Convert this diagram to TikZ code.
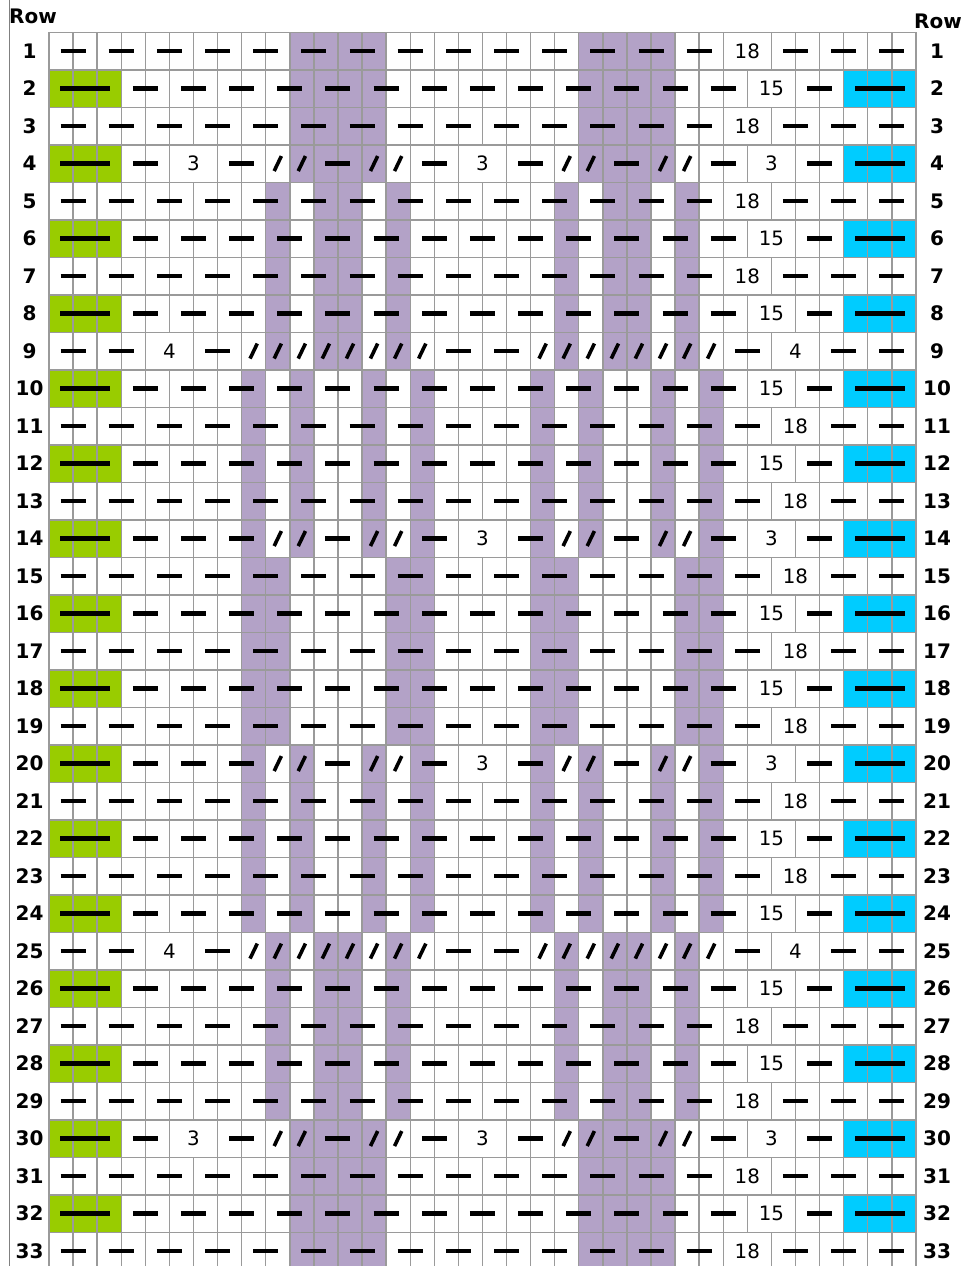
\documentclass[tikz,border=0pt]{standalone}
\usepackage{fontspec}
\setmainfont{DejaVu Sans}
\definecolor{purp}{HTML}{B3A2C7}
\definecolor{grn}{HTML}{99CC00}
\definecolor{blu}{HTML}{00CCFF}
\definecolor{gridc}{HTML}{9A9A9A}
\tikzset{
  dsh/.style={line width=2.1pt, black},
  sls/.style={line width=1.8pt, black},
  grd/.style={draw=gridc, line width=0.7pt},
  lbl/.style={font=\fontsize{9.9}{10}\selectfont, inner sep=0pt},
  rowlbl/.style={font=\fontsize{10}{10}\selectfont\bfseries, inner sep=0pt},
}
% dash centred on grid line k in row r
\newcommand\D[2]{\draw[dsh] ({36.5+#1*24.08},{13.55+#2*37.5}) -- ++(25,0);}
% slash in cell c of row r
\newcommand\Sl[2]{\draw[sls] ({61.04+#1*24.08-3.6},{13.55+#2*37.5+7.5}) -- ++(7.2,-15);}
% text box centred on grid line k in row r
\newcommand\T[3]{\fill[white] ({49+(#1-1)*24.08+0.8},{32.3+(#2-1)*37.5+0.8}) rectangle ({49+(#1+1)*24.08-0.8},{32.3+#2*37.5-0.8});
  \node[lbl] (t#2c#1) at ({49+#1*24.08},{13.55+#2*37.5}) {#3};}
\newcommand\LongD[1]{\draw[dsh] (60,{13.55+#1*37.5}) -- (110,{13.55+#1*37.5});
  \draw[dsh] (855,{13.55+#1*37.5}) -- (905,{13.55+#1*37.5});}
\newcommand\OddRow[3]{\foreach \k in {1,3,...,35}{\ifnum\k=#2\relax\else\D{\k}{#1}\fi}\T{#2}{#1}{#3}}
\newcommand\EvenRow[3]{\foreach \k in {4,6,...,32}{\ifnum\k=#2\relax\else\D{\k}{#1}\fi}\T{#2}{#1}{#3}\LongD{#1}}
\newcommand\RowA[1]{\D{4}{#1}\T{6}{#1}{3}\D{8}{#1}\Sl{9}{#1}\Sl{10}{#1}\D{12}{#1}\Sl{13}{#1}\Sl{14}{#1}\D{16}{#1}\T{18}{#1}{3}\D{20}{#1}\Sl{21}{#1}\Sl{22}{#1}\D{24}{#1}\Sl{25}{#1}\Sl{26}{#1}\D{28}{#1}\T{30}{#1}{3}\D{32}{#1}\LongD{#1}}
\newcommand\RowB[1]{\D{4}{#1}\D{6}{#1}\D{8}{#1}\Sl{9}{#1}\Sl{10}{#1}\D{12}{#1}\Sl{13}{#1}\Sl{14}{#1}\D{16}{#1}\T{18}{#1}{3}\D{20}{#1}\Sl{21}{#1}\Sl{22}{#1}\D{24}{#1}\Sl{25}{#1}\Sl{26}{#1}\D{28}{#1}\T{30}{#1}{3}\D{32}{#1}\LongD{#1}}
\newcommand\RowN[1]{\D{1}{#1}\D{3}{#1}\T{5}{#1}{4}\D{7}{#1}\foreach \c in {8,...,15}{\Sl{\c}{#1}}\D{17}{#1}\D{19}{#1}\foreach \c in {20,...,27}{\Sl{\c}{#1}}\D{29}{#1}\T{31}{#1}{4}\D{33}{#1}\D{35}{#1}}
\newcommand\PFill[2]{\foreach \r in {#1}{\foreach \c in {#2}{\fill[purp] ({49+\c*24.08},{\r*37.5-5.2}) rectangle ++(24.08,37.5);}}}
\begin{document}
\begin{tikzpicture}[x=0.5pt,y=-0.5pt]
\useasboundingbox (0,0) rectangle (967,1266);
% purple columns
\PFill{1,2,3,4,30,31,32,33}{10,11,12,13,22,23,24,25}
\PFill{5,6,7,8,9,25,26,27,28,29}{9,11,12,14,21,23,24,26}
\PFill{10,11,12,13,14,20,21,22,23,24}{8,10,13,15,20,22,25,27}
\PFill{15,16,17,18,19}{8,9,14,15,20,21,26,27}
% green and blue edges on even rows
\foreach \r in {2,4,...,32}{
  \fill[grn] (49,{\r*37.5-5.2}) rectangle (121.24,{\r*37.5+32.3});
  \fill[blu] (843.64,{\r*37.5-5.2}) rectangle (916,{\r*37.5+32.3});
}
% grid
\foreach \k in {0,...,36}{\draw[grd] ({49+\k*24.08},32.3) -- ({49+\k*24.08},1269.8);}
\foreach \r in {0,...,33}{\draw[grd] (49,{32.3+\r*37.5}) -- (916,{32.3+\r*37.5});}
% left rule
\draw[draw=gray, line width=0.5pt] (9.3,0) -- (9.3,1266);
% headers
\node[rowlbl] (rowL) at (33,16) {Row};
\node[rowlbl] (rowR) at (938,21) {Row};
\foreach \r in {1,...,33}{
  \node[rowlbl] (L\r) at (29.5,{13.55+\r*37.5}) {\r};
  \node[rowlbl] (R\r) at (937,{13.55+\r*37.5}) {\r};
}
% rows
\OddRow{1}{29}{18}
\EvenRow{2}{30}{15}
\OddRow{3}{29}{18}
\RowA{4}
\OddRow{5}{29}{18}
\EvenRow{6}{30}{15}
\OddRow{7}{29}{18}
\EvenRow{8}{30}{15}
\RowN{9}
\EvenRow{10}{30}{15}
\OddRow{11}{31}{18}
\EvenRow{12}{30}{15}
\OddRow{13}{31}{18}
\RowB{14}
\OddRow{15}{31}{18}
\EvenRow{16}{30}{15}
\OddRow{17}{31}{18}
\EvenRow{18}{30}{15}
\OddRow{19}{31}{18}
\RowB{20}
\OddRow{21}{31}{18}
\EvenRow{22}{30}{15}
\OddRow{23}{31}{18}
\EvenRow{24}{30}{15}
\RowN{25}
\EvenRow{26}{30}{15}
\OddRow{27}{29}{18}
\EvenRow{28}{30}{15}
\OddRow{29}{29}{18}
\RowA{30}
\OddRow{31}{29}{18}
\EvenRow{32}{30}{15}
\OddRow{33}{29}{18}
\end{tikzpicture}
\end{document}
